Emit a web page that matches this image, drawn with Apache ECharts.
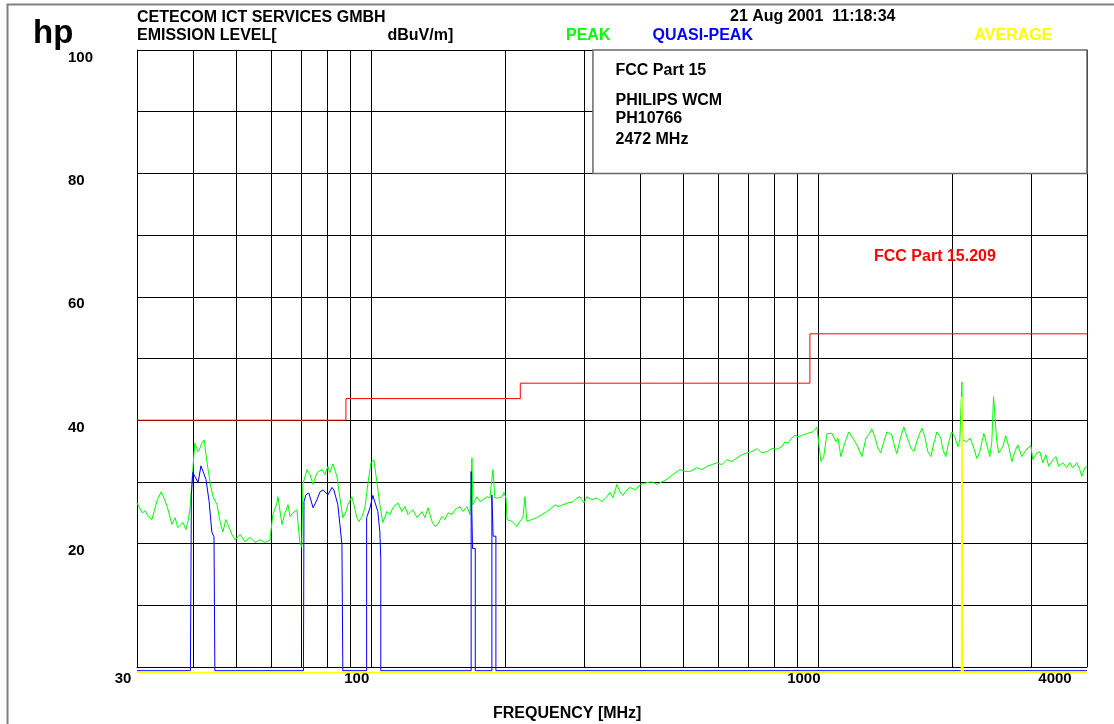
<!DOCTYPE html>
<html><head><meta charset="utf-8">
<script src="https://cdn.jsdelivr.net/npm/echarts@6/dist/echarts.min.js"></script>
<style>html,body{margin:0;padding:0;background:#fff}#c{width:1114px;height:724px}</style>
</head><body><div id="c"></div>
<script>
// ---- data (frequency in MHz, level in dBuV/m) ----
const peakTrace = [
[30.0,26.6],[30.8,25.0],[31.3,25.3],[31.8,24.4],[32.4,23.9],[33.3,27.1],[34.0,28.4],[34.6,27.1],[35.2,25.5],[35.9,23.1],
[36.5,24.2],[37.0,22.6],[38.0,23.4],[38.6,22.3],[39.0,23.6],[39.4,25.5],[39.8,30.0],[40.4,36.3],[41.1,34.9],[41.5,35.5],
[41.9,36.3],[42.4,36.8],[42.8,34.4],[43.2,32.3],[43.9,29.1],[44.4,27.6],[45.3,26.3],[46.0,23.6],[46.7,21.9],[47.4,23.9],
[47.9,23.1],[48.9,21.5],[49.7,20.6],[51.0,21.5],[52.3,20.3],[53.7,21.0],[55.1,20.2],[56.5,20.6],[58.0,20.2],[59.5,20.6],
[60.4,24.7],[61.7,26.6],[62.0,27.6],[63.3,23.1],[64.3,25.0],[65.3,26.3],[66.0,24.4],[67.0,25.0],[68.4,25.5],[68.7,23.6],
[69.4,20.2],[70.1,19.4],[70.5,29.6],[72.0,32.0],[73.1,31.2],[74.3,29.6],[75.8,31.5],[77.8,32.0],[79.0,31.2],[80.2,32.5],
[81.0,31.5],[82.3,32.9],[84.0,30.9],[85.3,27.4],[86.6,24.2],[88.0,25.2],[88.9,26.3],[90.7,27.6],[91.7,26.3],[93.1,24.2],
[94.1,23.6],[95.6,24.4],[97.0,25.8],[98.6,29.9],[100.1,33.1],[101.6,33.6],[103.2,30.0],[104.8,26.3],[106.4,23.4],[108.7,25.2],
[110.4,24.7],[112.0,25.8],[115.0,26.6],[117.4,25.2],[119.3,26.0],[121.1,24.7],[124.2,25.5],[126.9,24.2],[130.2,25.2],[132.2,24.2],
[134.3,25.8],[137.1,23.6],[139.2,22.8],[141.3,23.1],[144.2,24.4],[146.6,23.9],[148.9,25.0],[151.9,24.7],[154.3,25.5],[158.3,26.0],
[160.7,25.2],[164.1,26.0],[166.6,24.7],[168.4,33.9],[169.2,26.3],[172.8,27.6],[175.5,26.8],[178.2,27.1],[181.9,27.6],[184.7,27.4],
[187.6,32.0],[189.5,27.4],[192.5,27.4],[196.5,27.6],[198.6,28.3],[200.7,27.4],[201.7,23.9],[206.9,23.6],[212.3,22.8],[215.6,23.6],
[218.9,24.2],[221.2,27.6],[223.5,23.6],[229.3,23.9],[235.4,24.2],[241.5,24.7],[247.8,25.2],[254.2,25.8],[258.2,26.3],[262.2,26.0],
[269.0,26.3],[276.1,26.6],[283.3,26.8],[289.2,27.4],[293.7,27.6],[299.8,26.6],[304.5,27.6],[312.4,27.1],[320.5,27.4],[328.8,26.8],
[337.5,27.6],[342.7,28.3],[348.0,27.4],[355.3,29.6],[360.8,28.4],[366.4,27.8],[374.1,28.7],[379.9,29.1],[389.8,28.7],[402.0,29.6],
[414.7,29.9],[425.4,30.0],[436.6,29.6],[447.9,30.0],[459.6,30.4],[474.1,31.2],[491.4,32.0],[504.2,31.7],[517.5,31.7],[536.4,32.3],
[550.4,32.0],[564.8,32.5],[579.5,32.8],[594.6,33.1],[610.2,32.8],[626.0,33.6],[642.4,33.3],[659.1,33.9],[676.3,34.4],[693.9,34.7],
[712.0,34.9],[730.6,35.4],[749.6,34.7],[769.2,34.9],[789.3,35.4],[809.8,35.3],[830.9,35.7],[843.8,36.5],[856.9,36.3],[874.7,37.1],
[888.4,37.6],[902.3,37.3],[925.8,37.6],[950.0,37.9],[974.7,38.1],[995.0,38.9],[1005,39.2],[1016,33.3],[1031,34.1],[1048,37.8],
[1075,37.9],[1097,36.5],[1109,37.1],[1126,34.1],[1149,36.3],[1173,38.1],[1197,37.1],[1223,36.0],[1255,34.1],[1281,37.1],
[1307,37.9],[1320,38.6],[1341,37.3],[1362,35.5],[1383,34.7],[1398,36.0],[1427,38.1],[1464,37.6],[1487,35.5],[1502,34.6],
[1533,37.3],[1557,38.9],[1582,37.3],[1615,35.5],[1640,34.9],[1674,37.1],[1709,38.7],[1735,37.3],[1762,34.9],[1790,34.1],
[1818,36.3],[1846,38.1],[1884,37.1],[1904,35.2],[1933,34.1],[1963,36.5],[1993,38.1],[2025,37.3],[2057,35.7],[2078,36.8],
[2100,46.2],[2110,36.8],[2154,36.5],[2188,37.1],[2222,36.0],[2268,33.8],[2304,34.9],[2351,37.9],[2388,36.0],[2425,34.1],
[2450,36.5],[2472,43.8],[2514,36.5],[2540,34.7],[2593,35.7],[2633,37.5],[2674,35.7],[2716,33.3],[2758,34.9],[2801,36.0],
[2859,34.1],[2904,34.9],[2949,35.5],[2995,35.9],[3026,33.6],[3089,34.7],[3137,34.9],[3186,33.1],[3235,34.4],[3286,32.5],
[3354,33.6],[3406,34.1],[3459,32.5],[3531,33.1],[3605,32.3],[3661,33.1],[3718,32.3],[3795,33.1],[3854,32.0],[3894,30.9],
[3955,32.3],[4000,32.5]
];
const quasiPeakTrace = [
[30,-0.6],[39.5,-0.6],[39.7,28.0],[40.0,31.5],[40.2,31.8],[41.1,29.9],[41.7,32.6],[42.1,32.5],[42.8,30.4],[43.5,26.8],
[44.1,21.9],[44.6,21.1],[44.8,21.0],[44.8,-0.6],
[70.7,-0.6],[70.9,26.8],[71.6,27.9],[72.7,28.2],[74.3,25.8],[75.8,27.1],[77.0,28.4],[78.2,28.7],[80.2,27.9],[81.9,29.1],
[82.7,28.7],[84.4,26.3],[85.3,23.1],[86.2,19.8],[86.6,-0.6],
[97.9,-0.6],[97.9,24.2],[99.6,25.8],[101.1,27.8],[102.1,27.6],[103.7,25.2],[104.8,21.9],[105.3,17.5],[105.3,-0.6],
[167.7,-0.6],[167.7,31.7],[168.9,19.2],[171.3,19.2],[171.3,-0.6],
[186.6,-0.6],[186.6,27.9],[187.8,21.2],[190.5,21.2],[190.5,-0.6],
[4000,-0.6]
];
const averageTrace = [[30,-0.9],[2096,-0.9],[2100,43.8],[2112,-0.9],[4000,-0.9]];
const limitTrace = [[30,40],[88,40],[88,43.5],[216,43.5],[216,46],[960,46],[960,54],[4000,54]];
const gridFreqs = [40,50,60,70,80,90,100,200,300,400,500,600,700,800,900,1000,2000,3000,4000];
const xTickLabels = [30,100,1000,4000];
const yTickLabels = [20,40,60,80,100];
const infoBoxCorners = [[314,80],[4000,100]];
const headerLeft = ['CETECOM ICT SERVICES GMBH','EMISSION LEVEL[','dBuV/m]'];
const headerDate = '21 Aug 2001  11:18:34';
const traceNames = ['PEAK','QUASI-PEAK','AVERAGE'];
const infoLines = ['FCC Part 15','PHILIPS WCM','PH10766','2472 MHz'];
const limitName = 'FCC Part 15.209';
const xTitle = 'FREQUENCY [MHz]';

const FONT = '"Liberation Sans", Arial, sans-serif';
const C_PEAK = '#00ff00', C_QP = '#0000ff', C_AVG = '#ffff00', C_LIM = '#ff0000';
const bold = (s) => 'bold ' + s + 'px ' + FONT;

function txt(text, x, y, color, size, extra) {
  return Object.assign({type:'text', x:x, y:y, z:100, silent:true,
    style:{text:text, fill:color||'#000', font:bold(size||16), align:'left', verticalAlign:'middle'}}, extra||{});
}

const chart = echarts.init(document.getElementById('c'), null, {renderer:'canvas'});
chart.setOption({
  animation:false,
  backgroundColor:'#fff',
  grid:{left:137,right:27,top:50,bottom:57,show:false},
  xAxis:{
    type:'log', logBase:10, min:30, max:4000,
    axisLine:{show:true, lineStyle:{color:'#000', width:1}},
    axisTick:{show:false}, splitLine:{show:false},
    axisLabel:{
      show:true, margin:4, showMinLabel:true, showMaxLabel:true,
      formatter:(v)=>{const r=Math.round(v); if(!xTickLabels.includes(r)) return ''; return r===4000?'{b|'+r+'}':'{a|'+r+'}';},
      rich:{
        a:{padding:[0,28,0,0], fontFamily:FONT, fontWeight:'bold', fontSize:15, color:'#000'},
        b:{padding:[0,64,0,0], fontFamily:FONT, fontWeight:'bold', fontSize:15, color:'#000'}
      }
    }
  },
  yAxis:{
    type:'value', min:0, max:100, interval:10,
    axisLine:{show:true, lineStyle:{color:'#000', width:1}},
    axisTick:{show:false},
    splitLine:{show:true, lineStyle:{color:'#000', width:1}},
    axisLabel:{align:'left', margin:69, verticalAlign:'top', color:'#000',
      fontFamily:FONT, fontWeight:'bold', fontSize:15,
      formatter:(v)=> yTickLabels.includes(v)? String(v) : ''}
  },
  series:[
    {type:'line', name:limitName, data:limitTrace, showSymbol:false, clip:false, silent:true, z:2,
     lineStyle:{color:C_LIM, width:1},
     markLine:{silent:true, z:1, symbol:['none','none'], label:{show:false},
       lineStyle:{color:'#000', width:1, type:'solid'}, emphasis:{disabled:true},
       data: gridFreqs.map(f=>({xAxis:f}))}},
    {type:'line', name:traceNames[0], data:peakTrace, showSymbol:false, clip:false, silent:true, z:3,
     lineStyle:{color:C_PEAK, width:1},
     markArea:{silent:true, z:4, label:{show:false},
       itemStyle:{color:'#fff', borderColor:'#6a6a6a', borderWidth:1.5},
       data:[[{coord:infoBoxCorners[0]},{coord:infoBoxCorners[1]}]]}},
    {type:'line', name:traceNames[1], data:quasiPeakTrace, showSymbol:false, clip:false, silent:true, z:3,
     lineStyle:{color:C_QP, width:1}},
    {type:'line', name:traceNames[2], data:averageTrace, showSymbol:false, clip:false, silent:true, z:3,
     lineStyle:{color:C_AVG, width:1.5}}
  ],
  graphic:[
    {type:'rect', z:100, silent:true, shape:{x:7.5, y:4.5, width:1200, height:800},
     style:{fill:'none', stroke:'#808080', lineWidth:2}},
    {type:'text', x:33, y:50, z:100, silent:true,
     style:{text:'hp', fill:'#000', font:'bold 33px '+FONT, align:'left', verticalAlign:'bottom'}},
    txt(headerLeft[0], 137, 17.5),
    txt(headerLeft[1], 137, 36),
    txt(headerLeft[2], 387.5, 36),
    txt(headerDate, 730, 17),
    txt(traceNames[0], 566, 35.5, C_PEAK),
    txt(traceNames[1], 652.5, 35.5, C_QP),
    txt(traceNames[2], 974.5, 35.5, C_AVG),
    txt(infoLines[0], 615.5, 71),
    txt(infoLines[1], 615.5, 101),
    txt(infoLines[2], 615.5, 119),
    txt(infoLines[3], 615.5, 139.5),
    txt(limitName, 874, 257, C_LIM),
    txt(xTitle, 493, 714)
  ]
});
</script></body></html>
